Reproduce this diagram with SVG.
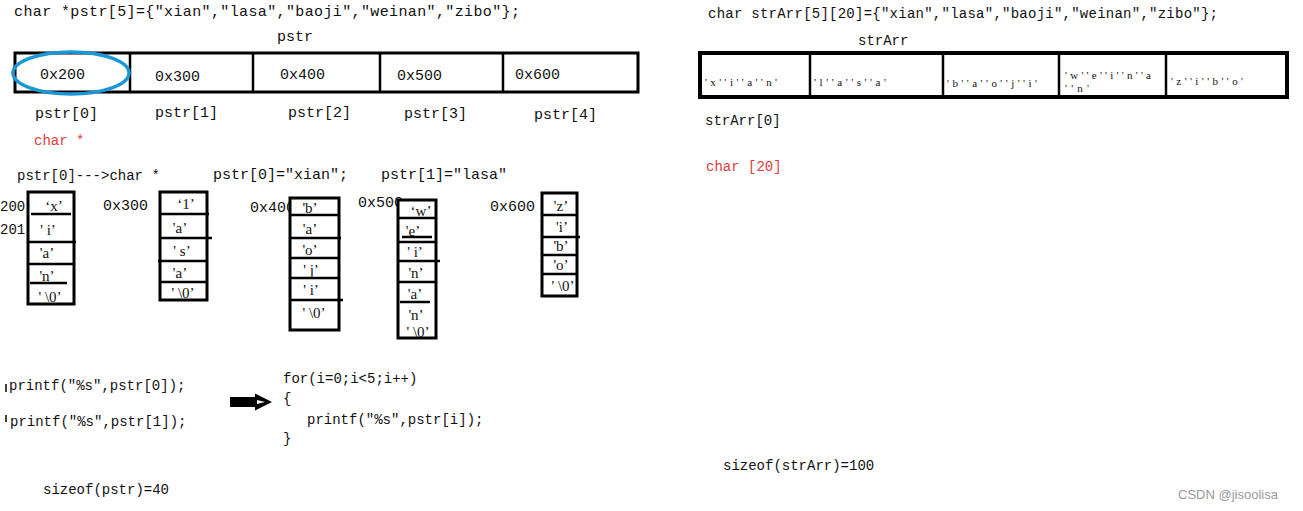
<svg xmlns="http://www.w3.org/2000/svg" width="1303" height="511" viewBox="0 0 1303 511">
<style>
.code{font-family:"Liberation Mono","DejaVu Sans Mono",monospace;font-size:14px;fill:#111}
.big{font-size:15px}
.red{fill:#e23b3b}
.ch{font-family:"Liberation Serif","DejaVu Serif",serif;font-size:15px;fill:#111;text-anchor:middle}
.sm{font-family:"Liberation Serif","DejaVu Serif",serif;font-size:11px;fill:#111}
.box{fill:#fff;stroke:#000;stroke-width:3}
.ln{stroke:#000;stroke-width:2.5}
.wm{font-family:"Liberation Sans","Noto Sans",sans-serif;font-size:13px;fill:#9a9a9a}
</style>
<rect width="1303" height="511" fill="#fff"/>

<g id="left-decl">
<text class="code big" x="14" y="16" textLength="506">char *pstr[5]={"xian","lasa","baoji","weinan","zibo"};</text>
<text class="code big" x="277" y="41">pstr</text>
</g>

<g id="pstr-array">
<rect class="box" x="15" y="53" width="623" height="39"/>
<line class="ln" x1="130" y1="53" x2="130" y2="92"/>
<line class="ln" x1="253" y1="53" x2="253" y2="92"/>
<line class="ln" x1="380" y1="53" x2="380" y2="92"/>
<line class="ln" x1="503" y1="53" x2="503" y2="92"/>
<text class="code big" x="40" y="79">0x200</text>
<text class="code big" x="155" y="81">0x300</text>
<text class="code big" x="280" y="79">0x400</text>
<text class="code big" x="397" y="80">0x500</text>
<text class="code big" x="515" y="79">0x600</text>
<ellipse cx="71" cy="73" rx="58" ry="21" fill="none" stroke="#1b97d4" stroke-width="3.5"/>
<text class="code big" x="35" y="118">pstr[0]</text>
<text class="code big" x="155" y="117">pstr[1]</text>
<text class="code big" x="288" y="117">pstr[2]</text>
<text class="code big" x="404" y="118">pstr[3]</text>
<text class="code big" x="534" y="119">pstr[4]</text>
<text class="code red" x="34" y="145">char *</text>
</g>

<g id="left-notes">
<text class="code" x="17" y="180">pstr[0]---&gt;char *</text>
<text class="code big" x="213" y="179">pstr[0]="xian";</text>
<text class="code big" x="381" y="179">pstr[1]="lasa"</text>
</g>

<g id="str-xian">
<text class="code" x="0" y="211">200</text>
<text class="code" x="0" y="234">201</text>
<rect class="box" x="28" y="192" width="46" height="112"/>
<line class="ln" x1="31" y1="214" x2="71" y2="214"/>
<line class="ln" x1="28" y1="242" x2="76" y2="242"/>
<line class="ln" x1="28" y1="264" x2="74" y2="264"/>
<line class="ln" x1="30" y1="283" x2="67" y2="283"/>
<text class="ch" x="54" y="211">‘x’</text>
<text class="ch" x="48" y="235">' i’</text>
<text class="ch" x="47" y="258">'a’</text>
<text class="ch" x="47" y="281">'n’</text>
<text class="ch" x="50" y="302">' \0’</text>
</g>

<g id="str-lasa">
<text class="code big" x="103" y="210">0x300</text>
<rect class="box" x="160" y="192" width="47" height="108"/>
<line class="ln" x1="160" y1="214" x2="209" y2="214"/>
<line class="ln" x1="160" y1="238" x2="212" y2="238"/>
<line class="ln" x1="158" y1="261" x2="207" y2="261"/>
<line class="ln" x1="160" y1="282" x2="207" y2="282"/>
<text class="ch" x="186" y="209">‘1’</text>
<text class="ch" x="180" y="233">'a’</text>
<text class="ch" x="182" y="256">' s’</text>
<text class="ch" x="180" y="278">'a’</text>
<text class="ch" x="183" y="298">' \0’</text>
</g>

<g id="str-baoji">
<text class="code big" x="250" y="212">0x400</text>
<rect class="box" x="290" y="198" width="49" height="132"/>
<line class="ln" x1="290" y1="215" x2="339" y2="215"/>
<line class="ln" x1="290" y1="238" x2="341" y2="238"/>
<line class="ln" x1="290" y1="258" x2="339" y2="258"/>
<line class="ln" x1="290" y1="278" x2="339" y2="278"/>
<line class="ln" x1="290" y1="300" x2="343" y2="300"/>
<text class="ch" x="310" y="213">'b’</text>
<text class="ch" x="310" y="234">'a’</text>
<text class="ch" x="310" y="255">'o’</text>
<text class="ch" x="311" y="275">' j’</text>
<text class="ch" x="311" y="295">' i’</text>
<text class="ch" x="314" y="318">' \0’</text>
</g>

<g id="str-weinan">
<text class="code big" x="358" y="207">0x500</text>
<rect class="box" x="398" y="200" width="38" height="138"/>
<line class="ln" x1="398" y1="218" x2="436" y2="218"/>
<line class="ln" x1="402" y1="237" x2="432" y2="237" stroke-width="3"/>
<line class="ln" x1="398" y1="242" x2="436" y2="242"/>
<line class="ln" x1="398" y1="261" x2="440" y2="261"/>
<line class="ln" x1="398" y1="282" x2="436" y2="282"/>
<line class="ln" x1="400" y1="302" x2="430" y2="302" stroke-width="3"/>
<text class="ch" x="421" y="216">‘w’</text>
<text class="ch" x="413" y="236">'e’</text>
<text class="ch" x="415" y="257">' i’</text>
<text class="ch" x="416" y="278">'n’</text>
<text class="ch" x="415" y="299">'a’</text>
<text class="ch" x="416" y="320">'n’</text>
<text class="ch" x="418" y="337">' \0’</text>
</g>

<g id="str-zibo">
<text class="code big" x="490" y="211">0x600</text>
<rect class="box" x="542" y="193" width="35" height="103"/>
<line class="ln" x1="542" y1="215" x2="577" y2="215"/>
<line class="ln" x1="542" y1="237" x2="580" y2="237"/>
<line class="ln" x1="542" y1="255" x2="577" y2="255"/>
<line class="ln" x1="542" y1="274" x2="577" y2="274"/>
<text class="ch" x="561" y="211">'z’</text>
<text class="ch" x="562" y="232">'i’</text>
<text class="ch" x="561" y="251">'b’</text>
<text class="ch" x="561" y="270">'o’</text>
<text class="ch" x="563" y="291">' \0’</text>
</g>

<g id="printf-calls">
<line x1="6" y1="384" x2="6" y2="392" stroke="#000" stroke-width="1.5"/>
<line x1="6" y1="415" x2="6" y2="422" stroke="#000" stroke-width="1.5"/>
<text class="code" x="9" y="390">printf("%s",pstr[0]);</text>
<text class="code" x="10" y="426">printf("%s",pstr[1]);</text>
</g>

<g id="connectors">
<path d="M230,397 L255,397 L255,393.5 L272,402 L255,410.5 L255,407 L230,407 Z" fill="#000"/>
<path d="M257,400 L265,402 L257,404 Z" fill="#fff"/>
</g>

<g id="for-loop">
<text class="code" x="283" y="383">for(i=0;i&lt;5;i++)</text>
<text class="code" x="283" y="403">{</text>
<text class="code" x="307" y="424">printf("%s",pstr[i]);</text>
<text class="code" x="283" y="443">}</text>
</g>

<g id="sizeof-pstr">
<text class="code" x="43" y="494">sizeof(pstr)=40</text>
</g>

<g id="right-decl">
<text class="code" x="708" y="18" textLength="510">char strArr[5][20]={"xian","lasa","baoji","weinan","zibo"};</text>
<text class="code" x="858" y="45">strArr</text>
</g>

<g id="strArr-array">
<rect x="700" y="53" width="587" height="44" fill="#fff" stroke="#000" stroke-width="4"/>
<line class="ln" x1="810" y1="53" x2="810" y2="97" stroke-width="3"/>
<line class="ln" x1="943" y1="53" x2="943" y2="97" stroke-width="3"/>
<line class="ln" x1="1059" y1="53" x2="1059" y2="97" stroke-width="3"/>
<line class="ln" x1="1166" y1="53" x2="1166" y2="97" stroke-width="3"/>
<text class="sm" x="705" y="86" textLength="72" lengthAdjust="spacing">'x''i''a''n'</text>
<text class="sm" x="814" y="86" textLength="72" lengthAdjust="spacing">'l''a''s''a'</text>
<text class="sm" x="947" y="87" textLength="90" lengthAdjust="spacing">'b''a''o''j''i'</text>
<text class="sm" x="1065" y="79" textLength="86" lengthAdjust="spacing">'w''e''i''n''a</text>
<text class="sm" x="1065" y="92" textLength="24" lengthAdjust="spacing">''n'</text>
<text class="sm" x="1171" y="85" textLength="72" lengthAdjust="spacing">'z''i''b''o'</text>
<text class="code" x="705" y="125">strArr[0]</text>
<text class="code red" x="706" y="171">char [20]</text>
</g>

<g id="sizeof-strArr">
<text class="code" x="723" y="470">sizeof(strArr)=100</text>
</g>

<text class="wm" x="1178" y="499">CSDN @jisoolisa</text>
</svg>
